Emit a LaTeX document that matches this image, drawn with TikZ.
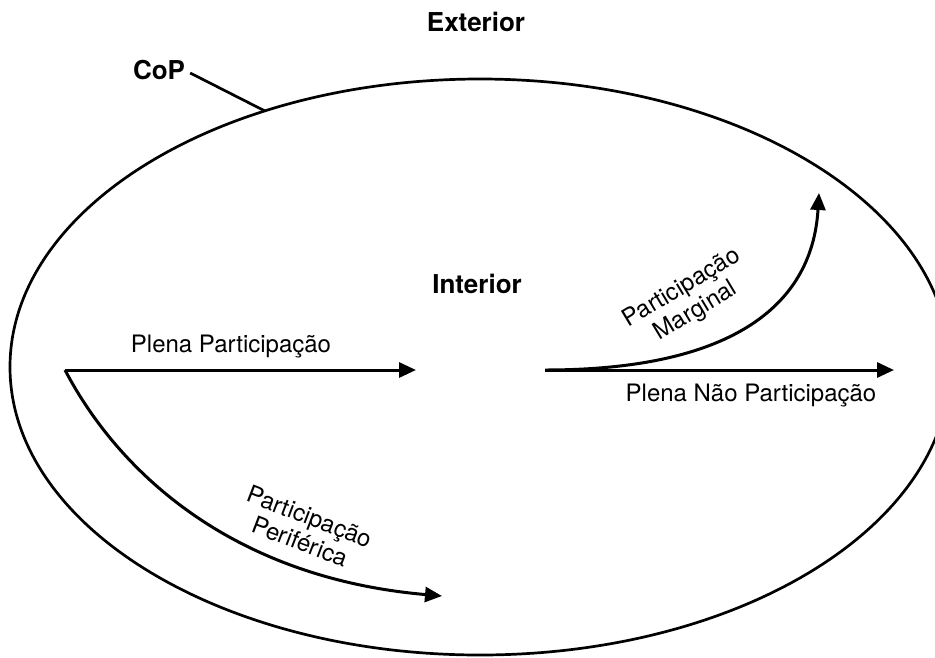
\documentclass[tikz,border=0pt]{standalone}
\usepackage{fontspec}
\setmainfont{TeX Gyre Heros}
\usepackage{tikz}
\usetikzlibrary{arrows.meta,positioning,shapes.geometric}

\begin{document}
\begin{tikzpicture}[
    x=1pt,y=-1pt,
    txt/.style={
        font=\fontsize{24}{27}\selectfont,
        inner sep=1pt,
        align=center
    },
    bold/.style={
        font=\fontsize{26}{30}\selectfont\bfseries,
        inner sep=1pt
    },
    flow/.style={
        line width=3pt,
        -{Triangle[length=17pt,width=15pt]}
    }
    ]
    \useasboundingbox (0,0) rectangle (935,657);
    % the community
    \node[draw,ellipse,line width=2.7pt,minimum width=940,minimum height=576,inner sep=0pt]
        (cop) at (480,367) {};
    \node[bold] (ext) at (476,22) {Exterior};
    \node[bold] (int) at (477,284) {Interior};
    \node[bold] (coplabel) at (159,70) {CoP};
    \coordinate (touch) at (265,111);
    \draw[line width=2.7pt] (coplabel.east) ++(4,3) -- (touch);
    % trajectories
    \coordinate (lstart) at (65,370);
    \coordinate (lend) at (416,370);
    \coordinate (pend) at (442,596);
    \coordinate (rstart) at (545,370);
    \coordinate (rend) at (894,370);
    \coordinate (mend) at (819,193);
    \draw[flow] (lstart) -- (lend);
    \draw[flow] (lstart) .. controls (120,475) and (235,578) .. (pend);
    \draw[flow] (rstart) -- (rend);
    \draw[flow] (rstart) .. controls (725,370) and (812,310) .. (mend);
    \draw[line width=3pt] (lstart) -- ++(4,0);
    \node[txt] (plena) at (231,347) {Plena Participação};
    \node[txt] (naopart) at (751,396) {Plena Não Participação};
    \node[txt,rotate=-21] (perif) at (305,529) {Participação\\Periférica};
    \node[txt,rotate=31] (marg) at (689,300) {Participação\\Marginal};
\end{tikzpicture}
\end{document}
